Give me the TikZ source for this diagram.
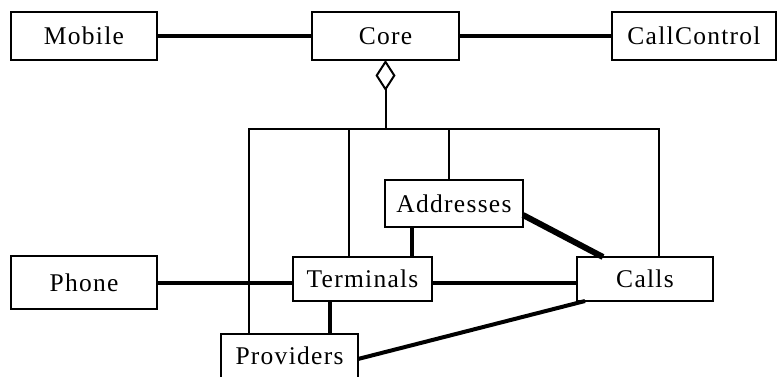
\documentclass[tikz,border=0pt]{standalone}
\usepackage{fontspec}
\setmainfont[LetterSpace=5]{Liberation Serif}
\usetikzlibrary{positioning, arrows.meta, calc}
\tikzset{%
  box/.style={draw, line width=2pt, inner sep=0pt, outer sep=0pt,
    font=\fontsize{25.5}{30}\selectfont}, % the class boxes
  assoc/.style={line width=4pt},
  strong/.style={line width=6pt},
  busline/.style={line width=2pt}, % thin lines of the aggregation
  agg/.style={busline, {Diamond[open, length=31pt, width=20pt]}-}
}

\begin{document}
\begin{tikzpicture}[x=1pt, y=1pt, node distance=30pt]
\useasboundingbox (0,0) rectangle (777,-376);

\node[box, minimum width=146pt, minimum height=48pt] (mob) at (84,-36) {Mobile};
\node[box, minimum width=147pt, minimum height=48pt, right=155pt of mob] (core) {Core};
\node[box, minimum width=164pt, minimum height=48pt, right=153pt of core] (cc) {CallControl};

\node[box, minimum width=146pt, minimum height=53pt, below=196pt of mob] (phone) {Phone};
\node[box, minimum width=139pt, minimum height=44pt, right=136pt of phone, yshift=3.5pt] (term) {Terminals};
\node[box, minimum width=136pt, minimum height=44pt, right=145pt of term] (calls) {Calls};
\node[box, minimum width=138pt, minimum height=47pt, above=30pt of term, xshift=91.5pt] (addr) {Addresses};
\node[box, minimum width=137pt, minimum height=44pt, below=33pt of term, xshift=-73pt] (prov) {Providers};

% aggregation bus under Core
\coordinate (b0) at (core.south |- 0,-129);
\coordinate (b1) at (249,-129);
\coordinate (b2) at (349,-129);
\coordinate (b3) at (449,-129);
\coordinate (b4) at (659,-129);
\draw[agg] (core.south) -- (b0);
\draw[busline] (b1 |- prov.north) -- (b1) -- (b4) -- (b4 |- calls.north);
\draw[busline] (b2) -- (b2 |- term.north);
\draw[busline] (b3) -- (b3 |- addr.north);

% associations
\draw[assoc] (mob) -- (core);
\draw[assoc] (core) -- (cc);
\draw[assoc] (phone.east) -- (phone.east -| term.west);
\draw[assoc] (phone.east -| term.east) -- (phone.east -| calls.west);
\draw[assoc] ([xshift=-32.5pt]term.south) -- ([xshift=-32.5pt]term.south |- prov.north);
\draw[assoc] ([xshift=-42pt]addr.south) -- ([xshift=-42pt]addr.south |- term.north);
\draw[strong] ([yshift=12pt]addr.south east) -- ([xshift=-42pt]calls.north);
\draw[assoc] ([xshift=8pt]calls.south west) -- ([yshift=-3pt]prov.east);

\end{tikzpicture}
\end{document}
